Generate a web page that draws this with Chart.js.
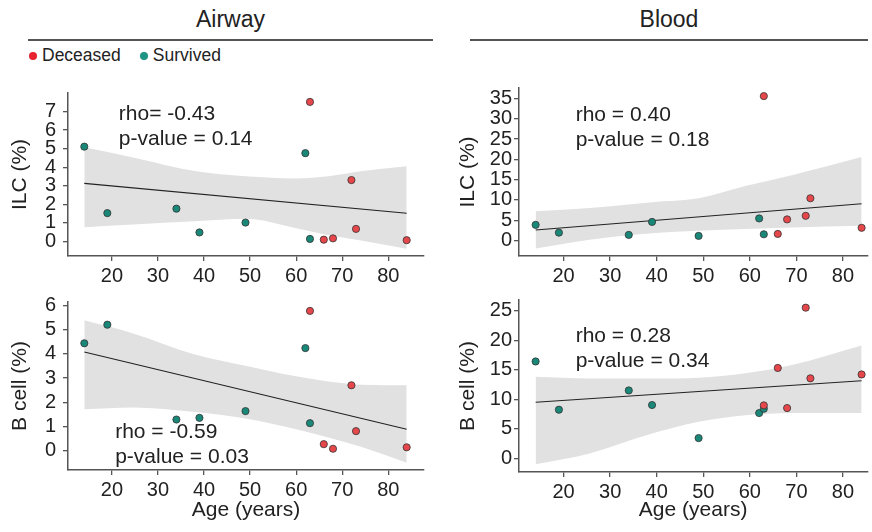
<!DOCTYPE html>
<html>
<head>
<meta charset="utf-8">
<script src="https://cdn.jsdelivr.net/npm/chart.js@4.4.1/dist/chart.umd.min.js"></script>
<style>
body { margin: 0; background: #fff; font-family: 'Liberation Sans', Arial, sans-serif; color: #222; }
#wrap { position: relative; width: 872px; height: 532px; overflow: hidden; background: #fff; }
canvas { position: absolute; background: #fff; }
.head { position: absolute; top: 4px; font-size: 23px; line-height: 30px; text-align: center; }
.rule { position: absolute; top: 39px; height: 0; border-top: 2px solid #555; }
.legend { position: absolute; left: 29px; top: 44px; font-size: 17.5px; line-height: 22px; white-space: nowrap; }
.legend i { display: inline-block; width: 8px; height: 8px; border-radius: 50%; margin-right: 5px; vertical-align: 1px; }
.legend i.s { margin-left: 19px; }
</style>
</head>
<body>
<div id="wrap">
  <div class="head" style="left:28px;width:405px">Airway</div>
  <div class="rule" style="left:28px;width:405px"></div>
  <div class="head" style="left:470px;width:398px">Blood</div>
  <div class="rule" style="left:470px;width:398px"></div>
  <div class="legend"><i style="background:#E8222E"></i>Deceased<i class="s" style="background:#1E9582"></i>Survived</div>

  <canvas id="airwayIlc" width="440" height="212" style="left:0;top:74px"></canvas>
  <canvas id="bloodIlc" width="432" height="212" style="left:440px;top:74px"></canvas>
  <canvas id="airwayB" width="440" height="249" style="left:0;top:283px"></canvas>
  <canvas id="bloodB" width="432" height="249" style="left:440px;top:283px"></canvas>
</div>
<script>
'use strict'

// ages of the patients
var survivedAge = [14, 19, 34, 39, 49, 62, 63];
var deceasedAge = [63, 66, 68, 72, 73, 84];

// measured values
var airwayIlcSurvived = [5.11, 1.53, 1.77, 0.49, 1.02, 4.76, 0.14];
var airwayIlcDeceased = [7.52, 0.10, 0.17, 3.31, 0.68, 0.07];
var airwayBSurvived = [4.44, 5.21, 1.28, 1.35, 1.63, 4.24, 1.13];
var airwayBDeceased = [5.78, 0.26, 0.07, 2.70, 0.80, 0.13];
var bloodIlcSurvived = [3.84, 1.92, 1.36, 4.56, 1.12, 5.43, 1.52];
var bloodIlcDeceased = [35.6, 1.60, 5.19, 6.07, 10.4, 3.12];
var bloodBSurvived = [16.4, 8.24, 11.5, 9.03, 3.44, 7.67, 8.4];
var bloodBDeceased = [8.97, 15.3, 8.52, 25.5, 13.55, 14.2];

// fitted line ends
var fitAge = [14, 84];
var airwayIlcFit = [3.13, 1.52];
var airwayBFit = [4.08, 0.88];
var bloodIlcFit = [2.56, 9.03];
var bloodBFit = [9.49, 13.15];

// confidence band
var bandAgeAirway = [14, 24.6, 38, 49, 60, 67, 74.4, 84];
var airwayIlcUpper = [5.08, 4.53, 3.8, 3.52, 3.40, 3.52, 3.8, 4.06];
var airwayIlcLower = [0.77, 0.92, 1.09, 1.22, 0.71, 0.34, 0.04, -0.39];
var airwayBUpper = [5.39, 4.85, 3.98, 3.51, 3.07, 2.86, 2.72, 2.70];
var airwayBLower = [1.71, 1.78, 1.59, 1.32, 0.88, 0.54, 0.13, -0.51];
var bandAgeBlood = [14, 25.6, 39, 49, 59, 69, 84];
var bloodIlcUpper = [7.19, 8.0, 9.43, 10.4, 13.4, 16.1, 20.6];
var bloodIlcLower = [-2.0, 0.16, 1.76, 2.4, 2.8, 3.2, 3.6];
var bloodBUpper = [13.8, 13.5, 13.5, 13.65, 14.4, 15.8, 19.1];
var bloodBLower = [-1.0, 0.85, 4.2, 6.2, 7.3, 7.7, 7.7];

// tick labels
var ageTicks = [20, 30, 40, 50, 60, 70, 80];
var airwayIlcTicks = [0, 1, 2, 3, 4, 5, 6, 7];
var airwayBTicks = [0, 1, 2, 3, 4, 5, 6];
var bloodIlcTicks = [0, 5, 10, 15, 20, 25, 30, 35];
var bloodBTicks = [0, 5, 10, 15, 20, 25];

var FONT = "'Liberation Sans', Arial, sans-serif";
var RED = '#E5474B';
var TEAL = '#1A8878';
var AXIS = '#555';

function pts(xs, ys) {
	return xs.map(function(x, i) { return {x: x, y: ys[i]}; });
}

// rho / p-value text, placed in data units
var statsText = {
	id: 'statsText',
	afterDatasetsDraw: function(chart, args, opts) {
		var ctx = chart.ctx;
		var x = chart.scales.x.getPixelForValue(opts.at[0]);
		var y = chart.scales.y.getPixelForValue(opts.at[1]);
		ctx.save();
		ctx.font = '21px ' + FONT;
		ctx.fillStyle = '#222';
		ctx.textAlign = 'left';
		ctx.textBaseline = 'middle';
		opts.lines.forEach(function(t, i) { ctx.fillText(t, x, y + i * 25); });
		ctx.restore();
	}
};

function panel(p) {
	return new Chart(document.getElementById(p.id), {
		type: 'scatter',
		data: {
			datasets: [
				{ data: pts(deceasedAge, p.deceased), backgroundColor: RED, borderColor: '#333', borderWidth: 0.8, pointRadius: 3.6 },
				{ data: pts(survivedAge, p.survived), backgroundColor: TEAL, borderColor: '#333', borderWidth: 0.8, pointRadius: 3.6 },
				{ type: 'line', data: pts(fitAge, p.fit), borderColor: '#222', borderWidth: 1.1, pointRadius: 0, fill: false },
				{ type: 'line', data: pts(p.bandAge, p.upper), borderColor: 'rgba(0,0,0,0)', backgroundColor: '#E1E1E1', pointRadius: 0, fill: '+1', cubicInterpolationMode: 'monotone' },
				{ type: 'line', data: pts(p.bandAge, p.lower), borderColor: 'rgba(0,0,0,0)', pointRadius: 0, fill: false, cubicInterpolationMode: 'monotone' }
			]
		},
		plugins: [statsText],
		options: {
			responsive: false,
			animation: false,
			devicePixelRatio: 1,
			layout: { padding: { top: p.padTop, right: p.padRight, left: 0, bottom: 0 } },
			plugins: {
				legend: { display: false },
				tooltip: { enabled: false },
				statsText: { at: p.textAt, lines: p.text }
			},
			scales: {
				x: {
					type: 'linear', min: p.xMin, max: p.xMax,
					afterBuildTicks: function(s) { s.ticks = ageTicks.map(function(v) { return {value: v}; }); },
					afterFit: function(s) { s.height = p.xHeight; },
					grid: { display: true, drawOnChartArea: false, tickLength: 5, color: AXIS, lineWidth: 1.3 },
					border: { display: true, color: AXIS, width: 1.5 },
					ticks: { font: { family: FONT, size: 20 }, color: '#222', padding: 3, autoSkip: false, maxRotation: 0 },
					title: { display: p.xTitle, text: 'Age (years)', font: { family: FONT, size: 21 }, color: '#222', padding: { top: 0, bottom: 9.4 } }
				},
				y: {
					type: 'linear', min: p.yMin, max: p.yMax,
					afterBuildTicks: function(s) { s.ticks = p.yTicks.map(function(v) { return {value: v}; }); },
					afterFit: function(s) { s.width = p.yWidth; },
					grid: { display: true, drawOnChartArea: false, tickLength: 5, color: AXIS, lineWidth: 1.3 },
					border: { display: true, color: AXIS, width: 1.5 },
					ticks: { font: { family: FONT, size: 20 }, color: '#222', padding: p.yPad, autoSkip: false },
					title: { display: true, text: p.yTitle, font: { family: FONT, size: 21 }, color: '#222', padding: { top: p.yTitlePad, bottom: 0 } }
				}
			}
		}
	});
}

panel({
	id: 'airwayIlc', survived: airwayIlcSurvived, deceased: airwayIlcDeceased, fit: airwayIlcFit,
	bandAge: bandAgeAirway, upper: airwayIlcUpper, lower: airwayIlcLower,
	xMin: 10.46, xMax: 87.76, yMin: -0.78, yMax: 8.0, yTicks: airwayIlcTicks,
	padTop: 10, padRight: 16, yWidth: 68, xHeight: 30, yPad: 7, yTitlePad: 7.4,
	xTitle: false, yTitle: 'ILC (%)',
	textAt: [21.5, 6.86], text: ['rho= -0.43', 'p-value = 0.14']
});

panel({
	id: 'bloodIlc', survived: bloodIlcSurvived, deceased: bloodIlcDeceased, fit: bloodIlcFit,
	bandAge: bandAgeBlood, upper: bloodIlcUpper, lower: bloodIlcLower,
	xMin: 10.43, xMax: 85.2, yMin: -3.84, yMax: 37.6, yTicks: bloodIlcTicks,
	padTop: 9, padRight: 3, yWidth: 79, xHeight: 30, yPad: 2, yTitlePad: 15.4,
	xTitle: false, yTitle: 'ILC (%)',
	textAt: [22.6, 31.0], text: ['rho = 0.40', 'p-value = 0.18']
});

panel({
	id: 'airwayB', survived: airwayBSurvived, deceased: airwayBDeceased, fit: airwayBFit,
	bandAge: bandAgeAirway, upper: airwayBUpper, lower: airwayBLower,
	xMin: 10.46, xMax: 87.76, yMin: -0.81, yMax: 6.15, yTicks: airwayBTicks,
	padTop: 15, padRight: 16, yWidth: 68, xHeight: 62, yPad: 7, yTitlePad: 7.4,
	xTitle: true, yTitle: 'B cell (%)',
	textAt: [20.7, 0.74], text: ['rho = -0.59', 'p-value = 0.03']
});

panel({
	id: 'bloodB', survived: bloodBSurvived, deceased: bloodBDeceased, fit: bloodBFit,
	bandAge: bandAgeBlood, upper: bloodBUpper, lower: bloodBLower,
	xMin: 10.43, xMax: 85.2, yMin: -2.3, yMax: 26.8, yTicks: bloodBTicks,
	padTop: 17, padRight: 3, yWidth: 79, xHeight: 60, yPad: 2, yTitlePad: 15.4,
	xTitle: true, yTitle: 'B cell (%)',
	textAt: [22.6, 20.6], text: ['rho = 0.28', 'p-value = 0.34']
});
</script>
</body>
</html>
